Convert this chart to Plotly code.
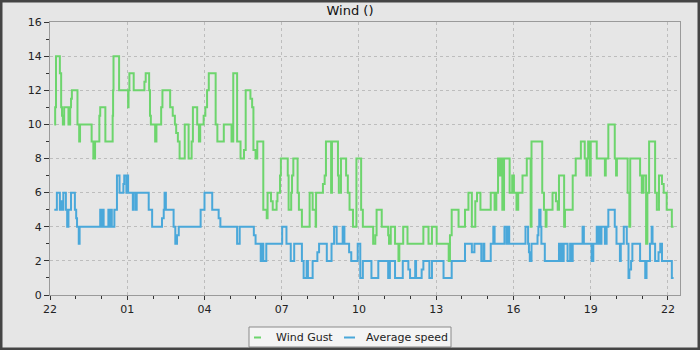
import datetime as dt
import plotly.graph_objects as go

# Minutes after 22:00 at which the value changes, and the new value
gust_minutes = [10, 12, 14, 23, 26, 28, 30, 33, 43, 47, 49, 51, 64, 68, 70, 97, 101, 105, 115, 117,
                129, 146, 147, 148, 161, 182, 183, 185, 195, 220, 223, 231, 233, 235, 245, 248, 259, 262, 280, 286,
                291, 294, 298, 302, 314, 323, 330, 333, 343, 347, 350, 358, 362, 366, 370, 386, 390, 405, 423, 427,
                436, 444, 452, 456, 467, 471, 474, 479, 483, 497, 505, 507, 515, 519, 528, 530, 536, 538, 554, 556,
                562, 564, 567, 577, 580, 587, 605, 612, 619, 620, 636, 640, 643, 655, 657, 671, 673, 678, 690, 694,
                698, 706, 714, 725, 729, 753, 758, 761, 773, 788, 790, 794, 804, 812, 814, 823, 833, 870, 882, 890,
                901, 929, 932, 936, 952, 967, 975, 983, 991, 995, 1003, 1027, 1036, 1040, 1044, 1048, 1052, 1054, 1058, 1071,
                1077, 1081, 1087, 1091, 1101, 1111, 1120, 1122, 1147, 1151, 1155, 1157, 1171, 1179, 1183, 1186, 1198, 1200, 1218, 1225,
                1237, 1246, 1250, 1252, 1254, 1258, 1260, 1274, 1293, 1295, 1301, 1316, 1319, 1321, 1346, 1350, 1352, 1375, 1379, 1383,
                1389, 1392, 1396, 1410, 1414, 1419, 1426, 1430, 1437, 1449, 1453]
gust_values = [10, 11, 14, 13, 11, 10.5, 10, 11, 10, 11, 11.5, 12, 10, 9, 10, 9, 8, 9, 10.5, 11,
               9, 10.5, 12, 14, 12, 11, 12, 13, 12, 12.5, 13, 12, 10.5, 10, 9, 10, 11, 12, 11, 10.5,
               10, 9.5, 9, 8, 10, 8, 9, 11, 10, 9, 10, 10.5, 11, 12, 13, 10, 9, 10, 9, 13,
               9, 8, 8.5, 12, 11.5, 11, 8.5, 8, 9, 5, 4.5, 6, 5.5, 5, 5.5, 6, 7, 8, 7, 5,
               6, 7, 8, 6, 5, 4, 6, 5, 4, 6, 6.5, 7, 9, 6, 9, 7, 6, 8, 7, 6,
               5, 4, 8, 5, 4, 3, 3.5, 5, 4, 3.5, 3, 4, 3, 2, 3, 4, 3, 4, 3, 4,
               3, 2, 3.5, 5, 4, 5, 6, 4, 5.5, 6, 5, 6, 5, 6, 8, 7, 8, 5, 8, 6,
               7, 6, 5, 6, 7, 8, 4, 9, 6, 5, 4, 5, 6, 5.5, 5, 7, 4, 5, 7, 8,
               9, 8, 7, 8, 9, 7, 9, 8, 7, 8, 10, 8, 7, 8, 6, 4, 8, 7, 6, 7,
               3, 6, 9, 6, 5, 7, 6.5, 6, 5, 4, 4]

speed_minutes = [10, 16, 23, 26, 28, 31, 37, 40, 43, 49, 58, 61, 63, 67, 69, 117, 119, 121, 125, 136,
                 138, 140, 144, 150, 156, 162, 171, 173, 178, 180, 182, 193, 195, 200, 202, 230, 238, 261, 265, 267,
                 270, 288, 292, 296, 300, 351, 360, 378, 393, 397, 436, 442, 475, 479, 491, 495, 497, 504, 541, 551,
                 561, 569, 587, 591, 598, 601, 612, 623, 627, 645, 656, 662, 668, 682, 686, 697, 702, 717, 723, 729,
                 749, 765, 788, 792, 804, 822, 835, 839, 851, 853, 866, 870, 884, 890, 917, 936, 967, 983, 989, 1005,
                 1010, 1012, 1027, 1033, 1036, 1059, 1064, 1067, 1070, 1108, 1114, 1116, 1118, 1122, 1136, 1138, 1140, 1143, 1145, 1153,
                 1186, 1188, 1192, 1194, 1197, 1206, 1212, 1214, 1218, 1241, 1244, 1262, 1266, 1274, 1276, 1280, 1282, 1285, 1293, 1297,
                 1301, 1316, 1320, 1328, 1330, 1337, 1344, 1348, 1350, 1354, 1357, 1375, 1387, 1390, 1398, 1402, 1404, 1410, 1418, 1422,
                 1426, 1449, 1453]
speed_values = [5, 6, 5, 5.5, 5, 6, 5, 4, 5, 6, 5, 4.5, 4, 3, 4, 5, 4, 5, 4, 5,
                4, 5, 4, 5, 7, 6, 6.5, 7, 6, 7, 6, 5, 6, 5, 6, 5, 4, 4.5, 5, 6,
                5, 4, 3, 3.5, 4, 5, 6, 5, 4.5, 4, 3, 4, 3.5, 3, 2, 3, 2, 3, 4, 3,
                2, 3, 2, 1, 2, 1, 2, 2.5, 3, 2, 3, 4, 3, 4, 3, 2.5, 2, 3, 1, 2,
                1, 2, 1, 2, 1, 2, 1.5, 1, 2, 1, 1.5, 2, 1, 2, 1, 2, 3, 2.5, 3, 2,
                3, 2, 3, 4, 3, 4, 3, 4, 3, 4, 3, 2.5, 2, 3, 3.5, 4, 5, 4, 3, 2,
                3, 2, 3, 2, 3, 2, 3, 2, 3, 4, 3, 2, 3, 4, 3, 4, 3, 4, 3, 4,
                5, 4, 3, 2, 3, 4, 3, 1, 1.5, 2, 3, 2, 1, 2, 3, 4, 3, 2, 2.5, 3,
                2, 1, 1]

series_names = ["Wind Gust", "Average speed"]
chart_title = "Wind ()"

base = dt.datetime(2024, 1, 1, 22, 0)
def times(mins):
    return [base + dt.timedelta(minutes=m) for m in mins]

GREEN = "#6dd56d"
BLUE = "#4aa8da"
GRID = "#bdbdbd"
AX = "#9a9a9a"
BG = "#e6e6e6"
colors = [GREEN, BLUE]

fig = go.Figure()
fig.add_trace(go.Scatter(x=times(gust_minutes), y=gust_values, mode="lines", line_shape="hv",
                         line=dict(color=GREEN, width=2), name=series_names[0], showlegend=False))
fig.add_trace(go.Scatter(x=times(speed_minutes), y=speed_values, mode="lines", line_shape="hv",
                         line=dict(color=BLUE, width=2), name=series_names[1], showlegend=False))

L, R, T, B = 50, 20, 22, 55
W, H = 700, 350
pw, ph = W - L - R, H - T - B

def px(x):
    return (x - L) / pw
def py(y):
    return (H - B - y) / ph

fig.update_layout(
    width=W, height=H,
    margin=dict(l=L, r=R, t=T, b=B, autoexpand=False),
    paper_bgcolor=BG, plot_bgcolor=BG,
    font=dict(family="DejaVu Sans", size=11, color="#222222"),
    title=dict(text=chart_title, x=0.5, xanchor="center", y=1 - 10 / H, yanchor="middle",
               font=dict(size=13, color="#111111", weight="normal")),
    showlegend=False,
    xaxis=dict(type="date", range=[base, base + dt.timedelta(minutes=1468)],
               tick0=base, dtick=3 * 3600 * 1000, tickformat="%H",
               showgrid=True, gridcolor=GRID, griddash="3px,3px", gridwidth=1,
               showline=True, linecolor=AX, linewidth=1, mirror=True,
               ticks="outside", ticklen=4, tickcolor="#333333",
               minor=dict(dtick=3600 * 1000, ticks="outside", ticklen=3, tickcolor="#333333", showgrid=False),
               zeroline=False, fixedrange=True),
    yaxis=dict(range=[0, 16], dtick=2, tick0=0,
               showgrid=True, gridcolor=GRID, griddash="3px,3px", gridwidth=1,
               showline=True, linecolor=AX, linewidth=1, mirror=True,
               ticks="outside", ticklen=5, tickcolor="#333333",
               minor=dict(dtick=1, ticks="outside", ticklen=3, tickcolor="#333333", showgrid=False),
               zeroline=False, fixedrange=True),
)

# custom legend (box, short line keys, labels)
fig.add_shape(type="rect", xref="paper", yref="paper",
              x0=px(249), x1=px(451), y0=py(347), y1=py(327),
              line=dict(color="#8a8a8a", width=1), fillcolor="#f4f4f4", layer="above")
key_x = [(254, 261, 274), (344, 355, 364)]
for (a, b, tx), name, col in zip(key_x, series_names, colors):
    fig.add_shape(type="line", xref="paper", yref="paper",
                  x0=px(a), x1=px(b), y0=py(337.5), y1=py(337.5),
                  line=dict(color=col, width=2), layer="above")
    fig.add_annotation(xref="paper", yref="paper", x=px(tx), y=py(337), xanchor="left", yanchor="middle",
                       text=name, showarrow=False, font=dict(size=11, color="#222222"))

# outer dark frame around whole chart
fig.add_shape(type="rect", xref="paper", yref="paper",
              x0=px(1), x1=px(W - 1), y0=py(H - 1), y1=py(1),
              line=dict(color="#444444", width=3), fillcolor="rgba(0,0,0,0)", layer="above")

fig.write_html("out.html")
